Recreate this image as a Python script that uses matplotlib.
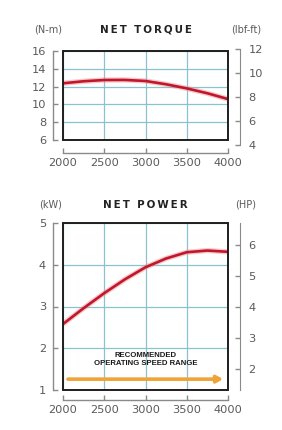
import matplotlib
matplotlib.use('Agg')
import matplotlib.pyplot as plt
from matplotlib.patches import Rectangle

# engine speed (rpm)
rpm = [2000, 2250, 2500, 2750, 3000, 3250, 3500, 3750, 4000]
# net torque, N-m
torque_nm = [12.37, 12.6, 12.74, 12.75, 12.63, 12.26, 11.8, 11.25, 10.6]
# net power, kW
power_kw = [2.58, 2.96, 3.32, 3.65, 3.94, 4.15, 4.30, 4.34, 4.31]

xticks = [2000, 2500, 3000, 3500, 4000]
torque_ticks = [6, 8, 10, 12, 14, 16]
lbfft_ticks = [4, 6, 8, 10, 12]
kw_ticks = [1, 2, 3, 4, 5]
hp_ticks = [2, 3, 4, 5, 6]
range_rpm = [2060, 3940]
range_kw = 1.26

NM_TO_LBFFT = 0.7376
KW_TO_HP = 1.341

W, H = 282, 430
fig = plt.figure(figsize=(W / 100, H / 100), dpi=100)
fig.patch.set_facecolor('white')

SPINE = '#8a8a8a'
LABEL = '#5a5a5a'
GRID = '#8cc2cf'
RED = '#c3162c'


def spaced(s):
    # letter-spaced title using thin spaces
    return '  '.join('\u2009'.join(word) for word in s.split())


def style_axis(ax, left_off, bottom_off):
    ax.spines['top'].set_visible(False)
    ax.spines['right'].set_visible(False)
    ax.spines['left'].set_position(('outward', left_off))
    ax.spines['bottom'].set_position(('outward', bottom_off))
    for s in ('left', 'bottom'):
        ax.spines[s].set_color(SPINE)
        ax.spines[s].set_linewidth(1.0)
    ax.tick_params(direction='in', length=3.5, width=1.0, color=SPINE,
                   labelcolor=LABEL, labelsize=8.2)
    ax.tick_params(axis='y', pad=5)
    ax.tick_params(axis='x', pad=3.5)
    ax.grid(True, color=GRID, lw=0.9)
    ax.set_axisbelow(True)
    ax.add_patch(Rectangle((0, 0), 1, 1, transform=ax.transAxes, fill=False,
                           ec='#1e1e1e', lw=1.4, clip_on=False, zorder=5))


def style_right(ax, off):
    for s in ('top', 'bottom', 'left'):
        ax.spines[s].set_visible(False)
    ax.spines['right'].set_position(('outward', off))
    ax.spines['right'].set_color(SPINE)
    ax.patch.set_visible(False)
    ax.tick_params(axis='y', direction='in', length=3.5, width=1.0, color=SPINE,
                   labelcolor=LABEL, labelsize=8.2, pad=6, left=False,
                   right=True, labelleft=False, labelright=True)
    ax.tick_params(axis='x', bottom=False, top=False, labelbottom=False, labeltop=False)


def curve(ax, x, y):
    ax.plot(x, y, color='#e88a8a', lw=3.8, alpha=0.45, solid_capstyle='butt', zorder=3)
    ax.plot(x, y, color=RED, lw=1.9, solid_capstyle='butt', zorder=4)


# ---- NET TORQUE ----
l, w = 63 / W, 165 / W
b1, h1 = (H - 140) / H, 89 / H
ax1 = fig.add_axes([l, b1, w, h1])
ax1.set_xlim(2000, 4000)
ax1.set_ylim(6, 16)
ax1.set_xticks(xticks)
ax1.set_yticks(torque_ticks)
style_axis(ax1, 7.2, 9.4)
curve(ax1, rpm, torque_nm)

# lbf-ft scale drawn beside the box, its own range
lo, hi = lbfft_ticks[0] / NM_TO_LBFFT, lbfft_ticks[-1] / NM_TO_LBFFT
yb = b1 + (lo - 6) / 10 * h1
yt = b1 + (hi - 6) / 10 * h1
axr1 = fig.add_axes([l, yb, w, yt - yb])
axr1.set_ylim(lbfft_ticks[0], lbfft_ticks[-1])
axr1.set_yticks(lbfft_ticks)
axr1.set_xticks([])
style_right(axr1, 8.6)

fig.text(l + w / 2, (H - 30) / H, spaced('NET TORQUE'), ha='center', va='center',
         fontsize=7.4, fontweight='bold', color='#222222')
fig.text(48 / W, (H - 30) / H, '(N-m)', ha='center', va='center', fontsize=7, color=LABEL)
fig.text(246 / W, (H - 30) / H, '(lbf-ft)', ha='center', va='center', fontsize=7, color=LABEL)

# ---- NET POWER ----
b2, h2 = (H - 390) / H, 167 / H
ax2 = fig.add_axes([l, b2, w, h2])
ax2.set_xlim(2000, 4000)
ax2.set_ylim(1, 5)
ax2.set_xticks(xticks)
ax2.set_yticks(kw_ticks)
style_axis(ax2, 7.2, 7.2)
curve(ax2, rpm, power_kw)

axr2 = ax2.twinx()
axr2.set_ylim(1 * KW_TO_HP, 5 * KW_TO_HP)
axr2.set_yticks(hp_ticks)
style_right(axr2, 8.6)

ax2.annotate('', xy=(range_rpm[1], range_kw), xytext=(range_rpm[0], range_kw),
             arrowprops=dict(arrowstyle='-|>,head_length=0.35,head_width=0.2',
                             color='#eea437', lw=2.6, shrinkA=0, shrinkB=0), zorder=4)
ax2.text(3000, 1.74, 'RECOMMENDED\nOPERATING SPEED RANGE', ha='center', va='center',
         fontsize=5.6, fontweight='bold', color='#1a1a1a', linespacing=1.2,
         family=['Liberation Sans', 'DejaVu Sans'], zorder=4)

fig.text(l + w / 2, (H - 205) / H, spaced('NET POWER'), ha='center', va='center',
         fontsize=7.4, fontweight='bold', color='#222222')
fig.text(51 / W, (H - 205) / H, '(kW)', ha='center', va='center', fontsize=7, color=LABEL)
fig.text(246 / W, (H - 205) / H, '(HP)', ha='center', va='center', fontsize=7, color=LABEL)

fig.savefig('out.png', dpi=100)
